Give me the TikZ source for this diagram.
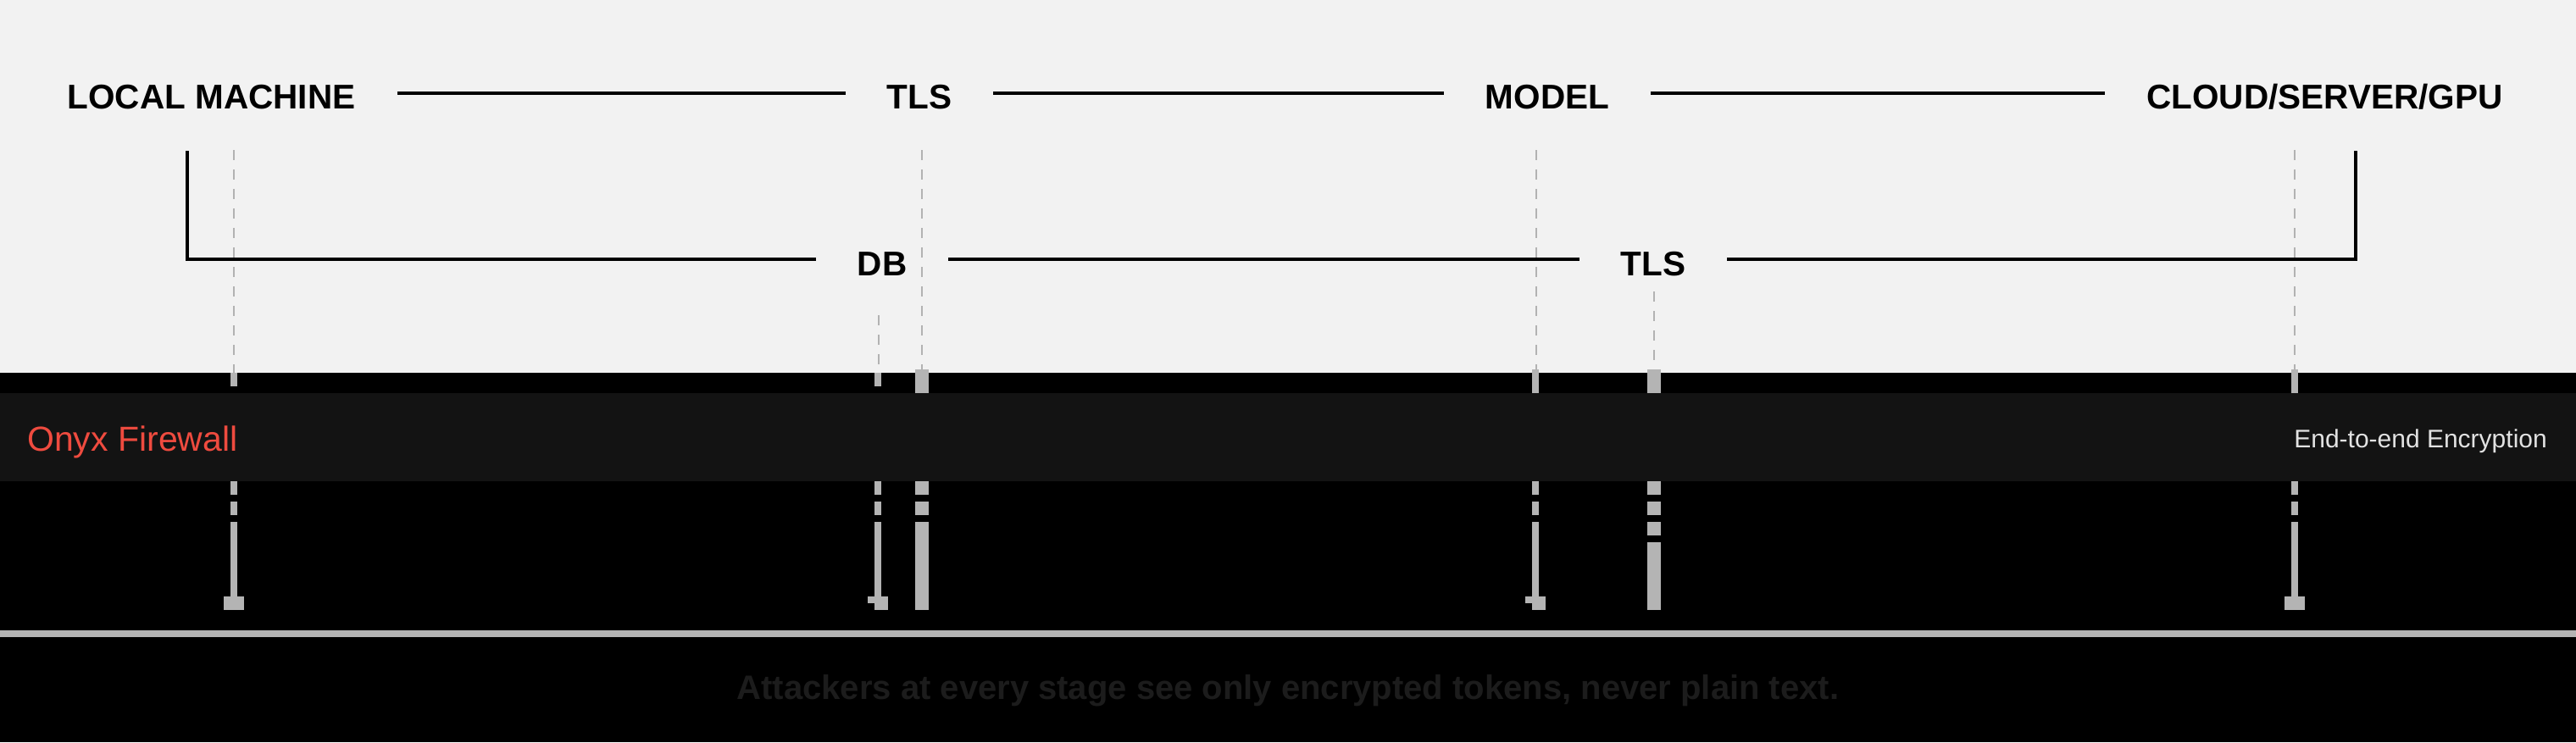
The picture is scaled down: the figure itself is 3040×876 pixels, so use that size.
\documentclass[tikz,border=0pt]{standalone}
\usepackage{fontspec}
\setmainfont{Liberation Sans}
\definecolor{topgray}{HTML}{F2F2F2}
\definecolor{bandgray}{HTML}{131313}
\definecolor{bargray}{HTML}{B4B4B4}
\definecolor{probegray}{HTML}{B2B2B2}
\definecolor{fwred}{HTML}{EF4B3F}
\definecolor{e2egray}{HTML}{E2E2E2}
\definecolor{capgray}{HTML}{1C1C1C}
\begin{document}
\begin{tikzpicture}[x=1pt,y=-1pt,
  lbl/.style={font=\fontsize{40.5}{48}\selectfont\bfseries, text=black, inner xsep=49pt, inner ysep=0pt, anchor=base},
  wire/.style={line width=3.5pt, black},
  probe/.style={line width=2pt, draw=probegray, dash pattern=on 12pt off 11pt},
  bar/.style={fill=bargray, draw=none}]
\useasboundingbox (0,0) rectangle (3040,876);
% backgrounds
\fill[topgray] (0,0) rectangle (3040,440);
\fill[black] (0,440) rectangle (3040,876);
\fill[bandgray] (0,464) rectangle (3040,568);
\fill[bargray] (0,744) rectangle (3040,752);

% row coordinates
\coordinate (r1) at (0,110);
\coordinate (r2) at (0,306);

% labels
\node[lbl] (lm) at (249.5,128) {LOCAL MACHINE};
\node[lbl] (tlsa) at (1085,128) {TLS};
\node[lbl] (model) at (1826,128) {MODEL};
\node[lbl] (cloud) at (2743.5,128) {CLOUD/SERVER/GPU};
\node[lbl] (db) at (1041,325) {DB};
\node[lbl] (tlsb) at (1951,325) {TLS};

% row 1 connectors
\draw[wire] (lm.east |- r1) -- (tlsa.west |- r1);
\draw[wire] (tlsa.east |- r1) -- (model.west |- r1);
\draw[wire] (model.east |- r1) -- (cloud.west |- r1);

% row 2 bracket
\coordinate (lmdrop) at (221,178);
\coordinate (cldrop) at (2780,178);
\draw[wire] (lmdrop) |- (db.west |- r2);
\draw[wire] (db.east |- r2) -- (tlsb.west |- r2);
\draw[wire] (tlsb.east |- r2) -| (cldrop);

% probes in the light area
\coordinate (p1t) at (276,177);  \coordinate (p1b) at (276,440);
\coordinate (p2t) at (1037,372); \coordinate (p2b) at (1037,440);
\coordinate (p3t) at (1088,177); \coordinate (p3b) at (1088,440);
\coordinate (p4t) at (1813,177); \coordinate (p4b) at (1813,440);
\coordinate (p5t) at (1952,344); \coordinate (p5b) at (1952,440);
\coordinate (p6t) at (2708,177); \coordinate (p6b) at (2708,440);
\foreach \i in {1,...,6} \draw[probe] (p\i t) -- (p\i b);

% thin columns with feet
\foreach \cx/\top/\bot in {276/440/456, 1036/440/456, 1812/436/464, 2708/436/464}{
  \fill[bar] (\cx-4,\top) rectangle (\cx+4,\bot);
  \fill[bar] (\cx-4,568) rectangle (\cx+4,584);
  \fill[bar] (\cx-4,592) rectangle (\cx+4,608);
  \fill[bar] (\cx-4,616) rectangle (\cx+4,704);
}
\fill[bar] (264,704) rectangle (288,720);
\fill[bar] (2696,704) rectangle (2720,720);
\fill[bar] (1032,704) rectangle (1048,720);
\fill[bar] (1024,704) rectangle (1032,712);
\fill[bar] (1808,704) rectangle (1824,720);
\fill[bar] (1800,704) rectangle (1808,712);

% thick columns
\fill[bar] (1080,436) rectangle (1096,464);
\fill[bar] (1080,568) rectangle (1096,584);
\fill[bar] (1080,592) rectangle (1096,608);
\fill[bar] (1080,616) rectangle (1096,720);
\fill[bar] (1944,436) rectangle (1960,464);
\fill[bar] (1944,568) rectangle (1960,584);
\fill[bar] (1944,592) rectangle (1960,608);
\fill[bar] (1944,616) rectangle (1960,632);
\fill[bar] (1944,640) rectangle (1960,720);

% band texts
\node[font=\fontsize{41}{48}\selectfont, text=fwred, anchor=base west, inner sep=0pt] (fw) at (32,532) {Onyx Firewall};
\node[font=\fontsize{30}{36}\selectfont, text=e2egray, anchor=base east, inner sep=0pt] (e2e) at (3006,528) {End-to-end Encryption};

% caption
\node[font=\fontsize{40}{48}\selectfont\bfseries, text=capgray, anchor=base, inner sep=0pt] (cap) at (1520,825) {Attackers at every stage see only encrypted tokens, never plain text.};
\end{tikzpicture}
\end{document}
